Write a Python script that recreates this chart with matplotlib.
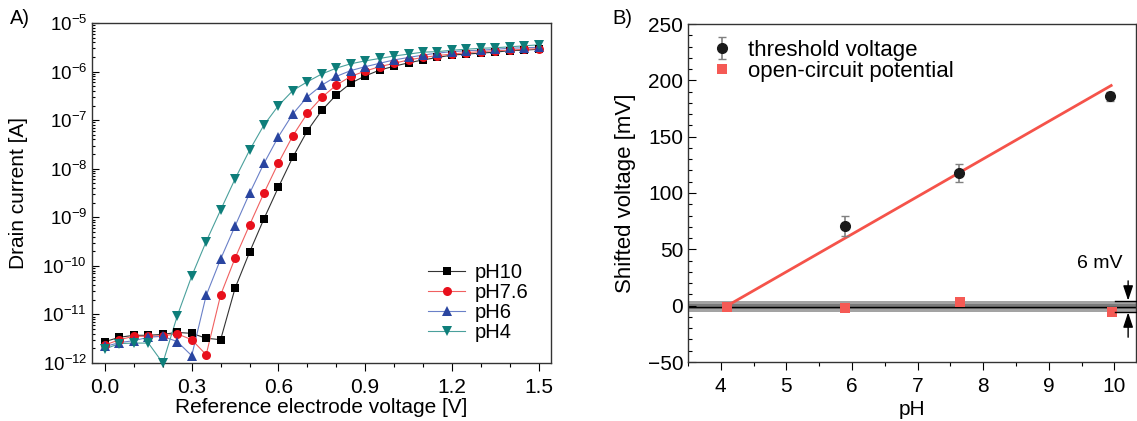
import matplotlib
matplotlib.use("Agg")
import matplotlib.pyplot as plt
import numpy as np
from matplotlib.ticker import MultipleLocator, LogLocator, FixedLocator
from matplotlib.lines import Line2D

plt.rcParams['font.family'] = ['Liberation Sans', 'DejaVu Sans']
plt.rcParams['mathtext.fontset'] = 'custom'
plt.rcParams['mathtext.rm'] = 'Liberation Sans'
plt.rcParams['mathtext.it'] = 'Liberation Sans:italic'
plt.rcParams['mathtext.bf'] = 'Liberation Sans:bold'

# ---------------- Panel A data ----------------
voltage = [round(0.05 * i, 2) for i in range(31)]  # 0.00 ... 1.50 V
log_i_ph10 = [-11.56, -11.47, -11.43, -11.43, -11.41, -11.37, -11.39, -11.49, -11.52, -10.46,
              -9.72, -9.03, -8.38, -7.76, -7.22, -6.80, -6.48, -6.24, -6.09, -5.97,
              -5.89, -5.82, -5.76, -5.71, -5.66, -5.64, -5.62, -5.60, -5.57, -5.56, -5.54]
log_i_ph76 = [-11.63, -11.52, -11.45, -11.45, -11.44, -11.40, -11.52, -11.83, -10.60, -9.84,
              -9.16, -8.50, -7.88, -7.32, -6.86, -6.53, -6.28, -6.10, -5.99, -5.90,
              -5.83, -5.76, -5.71, -5.67, -5.64, -5.61, -5.59, -5.57, -5.56, -5.54, -5.53]
log_i_ph6 = [-11.66, -11.58, -11.54, -11.47, -11.45, -11.56, -11.85, -10.61, -9.86, -9.18,
             -8.51, -7.89, -7.34, -6.87, -6.52, -6.28, -6.10, -5.98, -5.90, -5.83,
             -5.76, -5.71, -5.66, -5.62, -5.59, -5.57, -5.56, -5.54, -5.52, -5.51, -5.50]
log_i_ph4 = [-11.71, -11.60, -11.59, -11.59, -12.00, -11.03, -10.21, -9.50, -8.85, -8.21,
             -7.62, -7.10, -6.70, -6.39, -6.21, -6.05, -5.93, -5.84, -5.78, -5.73,
             -5.68, -5.64, -5.60, -5.59, -5.56, -5.54, -5.52, -5.51, -5.49, -5.47, -5.45]
series_labels = ['pH10', 'pH7.6', 'pH6', 'pH4']
x_ticks_a = [0.0, 0.3, 0.6, 0.9, 1.2, 1.5]
x_ticklabels_a = ['0.0', '0.3', '0.6', '0.9', '1.2', '1.5']
y_decades_a = [-12, -11, -10, -9, -8, -7, -6, -5]

# ---------------- Panel B data ----------------
ph_vth = [5.9, 7.63, 9.93]
vth_mv = [71, 118, 186]
vth_err = [9, 8, 4]
ph_ocp = [4.1, 5.9, 7.65, 9.97]
ocp_mv = [-1.5, -2.0, 3.0, -5.5]
fit_ph = [4.1, 9.97]
fit_mv = [0.0, 196.0]
band_outer = [-6.0, 4.5]
band_inner = [-3.0, 1.5]
band_center = -0.8
x_ticks_b = [4, 5, 6, 7, 8, 9, 10]
y_ticks_b = [-50, 0, 50, 100, 150, 200, 250]

FS_TICK = 15
FS_LAB_A = 15
FS_LAB_B = 16

fig = plt.figure(figsize=(11.37, 4.21), dpi=100)
axA = fig.add_axes([92/1137, 1-363/421, (551-92)/1137, (363-23)/421])
axB = fig.add_axes([688/1137, 1-362/421, (1136-688)/1137, (362-24)/421])

# ---- Panel A ----
styles = [
    dict(color='black', lc='#333333', marker='s', ms=6.0),
    dict(color='#e8101c', lc='#f06060', marker='o', ms=6.5),
    dict(color='#2a45a0', lc='#6a80c8', marker='^', ms=7.0),
    dict(color='#0e7e7a', lc='#4aa09c', marker='v', ms=7.0),
]
all_series = [log_i_ph10, log_i_ph76, log_i_ph6, log_i_ph4]
handles = []
for vals, st, lab in zip(all_series, styles, series_labels):
    cur = np.power(10.0, np.array(vals))
    axA.plot(voltage, cur, color=st['lc'], lw=0.8, zorder=2)
    axA.plot(voltage, cur, linestyle='none', marker=st['marker'], ms=st['ms'],
             color=st['color'], markeredgewidth=0, zorder=3, clip_on=False)
    handles.append(Line2D([], [], color=st['lc'], lw=0.8, marker=st['marker'],
                          ms=st['ms'], markerfacecolor=st['color'],
                          markeredgewidth=0, label=lab))

axA.set_yscale('log')
axA.set_ylim(1e-12, 1e-5)
axA.set_xlim(-0.045, 1.543)
axA.set_xticks(x_ticks_a)
axA.set_xticklabels(x_ticklabels_a)
axA.xaxis.set_minor_locator(MultipleLocator(0.1))
axA.yaxis.set_major_locator(FixedLocator([10.0**d for d in y_decades_a]))
axA.set_yticklabels([r'$10^{%d}$' % d for d in y_decades_a])
axA.yaxis.set_minor_locator(LogLocator(base=10, subs=np.arange(2, 10), numticks=20))
axA.tick_params(axis='y', which='both', direction='in', labelsize=13.5, width=0.8)
axA.tick_params(axis='y', which='major', length=5)
axA.tick_params(axis='y', which='minor', length=2.5)
axA.tick_params(axis='x', which='both', direction='out', labelsize=FS_TICK, width=0.8)
axA.tick_params(axis='x', which='major', length=6, pad=5)
axA.tick_params(axis='x', which='minor', length=3)
axA.tick_params(top=False, right=False, which='both')
for s in axA.spines.values():
    s.set_linewidth(1.0)
    s.set_color('#333333')
axA.set_xlabel('Reference electrode voltage [V]', fontsize=FS_LAB_A)
axA.set_ylabel('Drain current [A]', fontsize=FS_LAB_A)
axA.xaxis.set_label_coords(0.5, -0.103)
axA.yaxis.set_label_coords(-0.139, 0.5)
axA.legend(handles=handles, loc='lower left', bbox_to_anchor=(0.732, 0.062),
           frameon=False, fontsize=14.5, handlelength=1.84, handletextpad=0.5,
           labelspacing=0.05, borderpad=0, borderaxespad=0)

# ---- Panel B ----
axB.axhspan(band_outer[0], band_outer[1], color='#a3a3a3', lw=0, zorder=1)
axB.axhspan(band_inner[0], band_inner[1], color='#7a7a7a', lw=0, zorder=1)
axB.axhline(band_center, color='black', lw=1.0, zorder=2)
axB.plot(fit_ph, fit_mv, color='#f5534a', lw=2.0, zorder=3, solid_capstyle='butt')
eb = axB.errorbar(ph_vth, vth_mv, yerr=vth_err, fmt='o', color='#1a1a1a', ms=7,
                  ecolor='#808080', elinewidth=1.2, capsize=3, capthick=1.0,
                  zorder=4, label='threshold voltage')
sq, = axB.plot(ph_ocp, ocp_mv, linestyle='none', marker='s', ms=6.5, color='#f55a55',
               markeredgewidth=0, zorder=5, label='open-circuit potential')

axB.set_xlim(3.5, 10.33)
axB.set_ylim(-50, 250)
axB.set_xticks(x_ticks_b)
axB.set_yticks(y_ticks_b)
axB.xaxis.set_minor_locator(MultipleLocator(0.5))
axB.yaxis.set_minor_locator(MultipleLocator(10))
axB.tick_params(axis='y', which='both', direction='in', labelsize=FS_TICK, width=0.8)
axB.tick_params(axis='y', which='major', length=6)
axB.tick_params(axis='y', which='minor', length=3)
axB.tick_params(axis='x', which='both', direction='out', labelsize=FS_TICK, width=0.8)
axB.tick_params(axis='x', which='major', length=6, pad=5)
axB.tick_params(axis='x', which='minor', length=3)
for s in axB.spines.values():
    s.set_linewidth(1.0)
    s.set_color('#333333')
axB.set_xlabel('pH', fontsize=FS_LAB_A)
axB.set_ylabel('Shifted voltage [mV]', fontsize=FS_LAB_B)
axB.xaxis.set_label_coords(0.5, -0.112)
axB.yaxis.set_label_coords(-0.116, 0.5)
axB.legend(handles=[eb, sq], loc='upper left', bbox_to_anchor=(0.051, 0.954),
           frameon=False, fontsize=FS_LAB_B, handlelength=1.0, handletextpad=0.68,
           labelspacing=0.0, borderpad=0, borderaxespad=0)

# 6 mV annotation
x_arrow = 10.21
axB.plot([10.01, 10.33], [band_outer[1], band_outer[1]], color='black', lw=1.0,
         zorder=6, clip_on=False)
axB.plot([10.01, 10.33], [band_outer[0], band_outer[0]], color='black', lw=1.0,
         zorder=6, clip_on=False)
arrow_style = '-|>,head_length=0.9,head_width=0.3'
axB.annotate('', xy=(x_arrow, band_outer[1]), xytext=(x_arrow, 22),
             arrowprops=dict(arrowstyle=arrow_style, color='black', lw=1.0,
                             mutation_scale=10, shrinkA=0, shrinkB=0), zorder=7)
axB.annotate('', xy=(x_arrow, band_outer[0]), xytext=(x_arrow, -28),
             arrowprops=dict(arrowstyle=arrow_style, color='black', lw=1.0,
                             mutation_scale=10, shrinkA=0, shrinkB=0), zorder=7)
axB.text(9.77, 37, '6 mV', fontsize=14, ha='center', va='center')

fig.text(10/1137, 1-18/421, 'A)', fontsize=14.5, ha='left', va='center')
fig.text(612/1137, 1-18/421, 'B)', fontsize=14.5, ha='left', va='center')

fig.savefig('out.png', dpi=100)
